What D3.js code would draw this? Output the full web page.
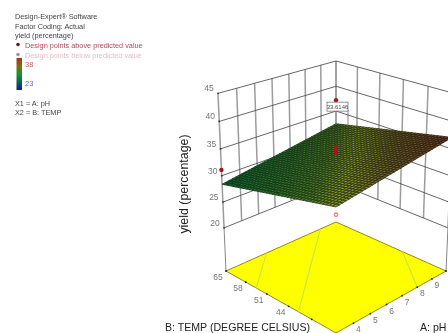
<!DOCTYPE html>
<html><head><meta charset="utf-8">
<script src="https://cdn.jsdelivr.net/npm/d3@7"></script>
<style>html,body{margin:0;padding:0;background:#fff;overflow:hidden}svg{display:block;filter:blur(0.35px)}text{font-family:"Liberation Sans",Arial,sans-serif}</style>
</head><body><svg id="c" width="448" height="333"></svg>
<script>
// ---- data ----
const legendLines = ["Design-Expert® Software","Factor Coding: Actual","yield (percentage)"];
const legendAbove = "Design points above predicted value";
const legendBelow = "Design points below predicted value";
const factorLines = ["X1 = A: pH","X2 = B: TEMP"];
const colorMax = 38, colorMin = 23;
const phDomain = [3,10];
const tempDomain = [30,65];
const phGrid = [3,4,5,6,7,8,9,10];
const tempGrid = [30,37,44,51,58,65];
const phLabels = [4,5,6,7,8,9];
const tempLabels = [44,51,58,65];
const yieldTicks = [20,25,30,35,40,45];
// yield read at the four extremes of the fitted surface: [pH, temp, yield]
const surfaceCorners = [[3,30,33.4],[10,30,37.1],[3,65,28.4],[10,65,32.4]];
// design points: [pH, temp, yield]
const pointsAbove = [[3,65,31.1],[6.5,47.5,43.8],[6.5,47.5,35.3],[6.5,47.5,34.8],[6.5,47.5,34.3]];
const pointsBelow = [[3,30,32.1]];
const pointLabel = "33.6146";
// floor contours, end points as [pH, temp]
const contours = [[[5.4,65],[3,54.5]],[[8.9,65],[3,41]],[[10,43],[8,30]]];

// ---- scales and projection ----
const svg = d3.select("#c");
const U = d3.scaleLinear().domain(phDomain).range([0,1]);
const V = d3.scaleLinear().domain(tempDomain).range([0,1]);
const H = d3.scaleLinear().domain([11.4,45]).range([0,1]);
const cx=336, R=110, Y0=271, B=23, PA=-0.117, PC=-0.068, HH=-184;
function proj(ph,t,z){
  const u=U(ph),v=V(t),h=z==null?0:H(z);
  const r=u-v,d=1-u-v,w=1+PA*d+PC*h;
  return [cx+R*r/w,(Y0+B*d+HH*h)/w];
}
const line=d3.line();
const [ph0,ph1]=phDomain,[t0,t1]=tempDomain;
const zLow=yieldTicks[0],zTop=yieldTicks[yieldTicks.length-1];

// ---- walls ----
const walls=svg.append("g").attr("fill","none");
phGrid.forEach(p=>walls.append("path").attr("d",line([proj(p,t1,zLow),proj(p,t1,zTop)])).attr("stroke","#9c9c9c").attr("stroke-width",1.5));
tempGrid.forEach(t=>walls.append("path").attr("d",line([proj(ph1,t,zLow),proj(ph1,t,zTop)])).attr("stroke","#9c9c9c").attr("stroke-width",1.5));
yieldTicks.forEach(z=>walls.append("path").attr("d",line([proj(ph0,t1,z),proj(ph1,t1,z),proj(ph1,t0,z)])).attr("stroke","#4a4a4a").attr("stroke-width",0.85));
[[ph0,t1],[ph1,t0]].forEach(c=>walls.append("path").attr("d",line([proj(c[0],c[1],11.4),proj(c[0],c[1],zLow)])).attr("stroke","#777").attr("stroke-width",0.9));

// y tick labels
yieldTicks.forEach(z=>{const p=proj(ph0,t1,z);
  svg.append("circle").attr("cx",p[0]).attr("cy",p[1]).attr("r",0.9).attr("fill","#333");
  svg.append("text").attr("x",p[0]-9).attr("y",p[1]-2).attr("text-anchor","middle").attr("font-size",8.5).attr("fill","#777").text(z);});

// ---- floor ----
const floor=svg.append("g");
floor.append("path").attr("d",line([proj(ph0,t0),proj(ph1,t0),proj(ph1,t1),proj(ph0,t1)])+"Z").attr("fill","#ffff00").attr("stroke","#8f8a1a").attr("stroke-width",1);
contours.forEach(c=>floor.append("path").attr("d",line(c.map(q=>proj(q[0],q[1])))).attr("fill","none").attr("stroke","#c4e838").attr("stroke-width",1.1));
phGrid.slice(1,-1).forEach(p=>{const q=proj(p,t0);floor.append("circle").attr("cx",q[0]).attr("cy",q[1]).attr("r",0.9).attr("fill","#222");});
tempGrid.slice(1,-1).forEach(t=>{const q=proj(ph0,t);floor.append("circle").attr("cx",q[0]).attr("cy",q[1]).attr("r",0.9).attr("fill","#222");});
[[ph0,t1],[ph1,t0]].forEach(c=>{const q=proj(c[0],c[1]);floor.append("circle").attr("cx",q[0]).attr("cy",q[1]).attr("r",1).attr("fill","#222");});
phLabels.forEach(p=>{const q=proj(p,t0);floor.append("text").attr("x",q[0]+5).attr("y",q[1]+9).attr("text-anchor","middle").attr("font-size",8.5).attr("fill","#777").text(p);});
tempLabels.forEach(t=>{const q=proj(ph0,t);floor.append("text").attr("x",q[0]-8).attr("y",q[1]+9).attr("text-anchor","middle").attr("font-size",8.5).attr("fill","#777").text(t);});

function dot(p,fill,r){const q=proj(p[0],p[1],p[2]);svg.append("circle").attr("cx",q[0]).attr("cy",q[1]).attr("r",r).attr("fill",fill);return q;}

// ---- surface: the corner readings shaded as a fine mesh, back to front ----
const zAt=(u,v)=>d3.interpolateNumber(
  d3.interpolateNumber(surfaceCorners[0][2],surfaceCorners[1][2])(u),
  d3.interpolateNumber(surfaceCorners[2][2],surfaceCorners[3][2])(u))(v);
const fillScale=d3.scaleLinear().domain([28.4,31,32.4,33.4,35,37.1]).range(["#137030","#2c7a2a","#4a8028","#8f9c2a","#72602a","#70402a"]);
const lineScale=d3.scaleLinear().domain([28.4,33.4,37.1]).range(["#06301a","#26340f","#2c150c"]);
const N=38, mesh=svg.append("g");
const PH=d3.scaleLinear().domain([0,N]).range(phDomain), TT=d3.scaleLinear().domain([0,N]).range(tempDomain);
const cells=[];
d3.range(N).forEach(i=>d3.range(N).forEach(j=>cells.push([i,j])));
cells.sort((a,b)=>(b[0]+b[1])-(a[0]+a[1]));
const shape=(i,j)=>proj(PH(i),TT(j),zAt(i/N,j/N));
cells.forEach(([i,j])=>{
  const z=zAt((i+.5)/N,(j+.5)/N);
  mesh.append("path").attr("d",line([shape(i,j),shape(i+1,j),shape(i+1,j+1),shape(i,j+1)])+"Z")
    .attr("fill",fillScale(z)).attr("stroke",lineScale(z)).attr("stroke-width",0.75);
});

// ---- design points ----
pointsAbove.forEach(p=>dot(p,"#a5161d",2.2));
pointsBelow.forEach(p=>{const q=dot(p,"#e88a8a",2.4);svg.append("circle").attr("cx",q[0]).attr("cy",q[1]).attr("r",1).attr("fill","#fff");});

// value flag
const flagAt=proj(...pointsAbove[1]);
const flag=svg.append("g").attr("transform",`translate(${flagAt[0]},${flagAt[1]})`);
flag.append("path").attr("d",line([[12,10],[12,25]])).attr("stroke","#666").attr("stroke-width",0.8);
flag.append("rect").attr("x",-9).attr("y",2).attr("width",21).attr("height",9).attr("fill","#fff").attr("stroke","#666").attr("stroke-width",0.7);
flag.append("text").attr("x",1.5).attr("y",9).attr("text-anchor","middle").attr("font-size",6).attr("fill","#555").text(pointLabel);

// ---- axis titles ----
svg.append("text").attr("transform","translate(188,184) rotate(-90)").attr("text-anchor","middle").attr("font-size",12.4).attr("fill","#222").text("yield (percentage)");
svg.append("text").attr("x",165).attr("y",331).attr("font-size",10.6).attr("fill","#222").text("B: TEMP (DEGREE CELSIUS)");
svg.append("text").attr("x",420).attr("y",331).attr("font-size",10.6).attr("fill","#222").text("A: pH");

// ---- legend ----
const leg=svg.append("g").attr("font-size",7.3);
legendLines.forEach((s,i)=>leg.append("text").attr("x",15).attr("y",[19,29,38][i]).attr("fill","#444").text(s));
leg.append("circle").attr("cx",18).attr("cy",44.5).attr("r",1.8).attr("fill","#7a1020");
leg.append("text").attr("x",25).attr("y",48).attr("fill","#b5485a").text(legendAbove);
leg.append("circle").attr("cx",18).attr("cy",54.5).attr("r",1.8).attr("fill","#999");
leg.append("text").attr("x",25).attr("y",58).attr("fill","#e3bcc4").text(legendBelow);
const grad=svg.append("defs").append("linearGradient").attr("id","cb").attr("x1",0).attr("x2",0).attr("y1",0).attr("y2",1);
[[0,"#a8301a"],[.25,"#8a6a10"],[.5,"#0f9a2a"],[.72,"#0d6a50"],[1,"#101f8f"]].forEach(s=>grad.append("stop").attr("offset",s[0]).attr("stop-color",s[1]));
leg.append("rect").attr("x",16.5).attr("y",58).attr("width",5.5).attr("height",32).attr("fill","url(#cb)");
leg.append("text").attr("x",25).attr("y",67).attr("fill","#d05a5a").attr("font-size",7.5).text(colorMax);
leg.append("text").attr("x",25).attr("y",86).attr("fill","#5a6ac8").attr("font-size",7.5).text(colorMin);
factorLines.forEach((s,i)=>leg.append("text").attr("x",15).attr("y",[105.5,114.5][i]).attr("fill","#444").text(s));
</script></body></html>
